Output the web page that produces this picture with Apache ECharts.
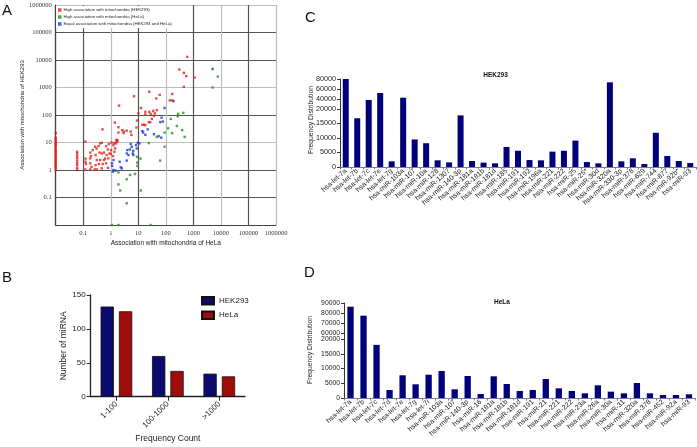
<!DOCTYPE html>
<html><head><meta charset="utf-8">
<script src="https://cdn.jsdelivr.net/npm/echarts@6/dist/echarts.min.js"></script>
<style>html,body{margin:0;padding:0;background:#fff}#c{width:697px;height:447px}</style>
</head><body><div id="c"></div>
<script>
// ---------- Panel A data: [HeLa, HEK293] ----------
const redPoints = [
 [600,13000],[310,4500],[450,3400],[550,2600],[1100,2300],[450,1050],[25,700],[7,480],[170,580],[60,540],
 [45,400],[140,340],[170,340],[2,220],[12.5,180],[18,130],[25,130],[35,140],[47,150],[18,105],[28,110],
 [40,115],[10,115],[37,93],[31,72],[9,63],[24,55],[27,55],[1.4,53],[14,44],[16,44],[18,43],[1.9,36],
 [8.5,35],[0.5,30],[2.6,28],[3.8,27],[3,25],[5.3,25],[1.9,23],[2.9,22],[5.6,19],[1.6,12.5],[1.7,12],
 [1.6,10.5],[0.12,10.8],[1.05,10],[1.3,9.5],
 [0.18,4.3],[0.19,3.2],[0.18,2.65],[0.12,2.6],[0.12,2],[0.125,1.65],[0.12,1.05],[0.18,1.75],[0.2,1.3],
 [0.18,1.05],[0.26,1.05],[0.28,1.5],[0.31,2.3],[0.28,3.5],[0.31,6],[0.36,7.4],[0.41,9.3],[0.47,9.8],
 [0.27,7],[0.22,5.3],[0.39,4.3],[0.47,4],[0.57,4.3],[0.71,3.5],[0.9,4],[1,3.8],[1.2,3.2],[1.36,4.6],
 [1.44,6.1],[1.25,8],[1.56,9.3],[1.75,11.3],[0.82,2.65],[0.57,2.3],[0.41,2.3],[0.37,1.65],[0.51,1.65],
 [0.68,1.75],[0.47,1.15],[0.31,1.05],[0.8,1.2],[0.62,2.6],[0.78,5.6],[1.03,5.3],[0.68,7.4],[0.85,8.8],
 [0.06,1],[0.06,1.2],[0.06,1.5],[0.06,1.8],[0.06,2.2],[0.06,2.7],[0.06,3.3],[0.06,4],[0.06,4.6],
 [0.01,1],[0.01,1.2],[0.01,1.4],[0.01,1.6],[0.01,1.8],[0.01,2],[0.01,2.3],[0.01,2.6],[0.01,3],[0.01,3.5],
 [0.01,4],[0.01,4.5],[0.01,5],[0.01,6],[0.01,7],[0.01,8],[0.01,9],[0.01,10],[0.01,11],[0.01,13],[0.01,15],[0.01,22]
];
const greenPoints = [
 [5000,1000],[7700,2500],[280,110],[430,120],[270,90],[150,72],[250,40],[120,33],[390,28],[90,23],[170,22],
 [47,16],[480,16],[24,9.5],[90,7],[62,2.2],[12,2.6],[9,3],[9.2,1.85],[9.3,1.4],[7.6,0.72],[5,0.66],[3.8,0.46],
 [1.9,0.82],[1.9,0.3],[2.2,0.18],[12.3,0.18],[3.8,0.062],[1.1,0.01],[1.9,0.01],[28,0.01]
];
const bluePoints = [
 [5000,4700],[190,320],[90,180],[70,80],[78,58],[63,55],[14,26],[15,23],[18,19],[22,30],[37,20],[55,17],[68,15],
 [3.8,4],[4,5.3],[5,5.6],[4.4,3.5],[6.3,4],[6.6,5],[5.8,7],[5.3,8.8],[8.3,8],[9.5,9.8],[11,9.3],[8.8,6.1],
 [1.25,2.3],[1.1,1.75],[1.12,1.4],[1.25,1],[1.18,0.87],[1.48,0.95],[2.3,1.25],[2.5,1.15],[3.8,2.2],[2.1,2],[6.6,3.5]
];
const seriesNamesA = ['High association with mitochondria (HEK293)','High association with mitochondria (HeLa)','Equal association with mitochondria (HEK293 and HeLa)'];

// ---------- Panel B ----------
const countCategories = ['1-100','100-1000','>1000'];
const countHEK293 = [133,60,34];
const countHeLa = [126,38,30];
const countTicks = [0,50,100,150];

// ---------- Panel C ----------
const hekMiRNAs = ['hsa-let-7a','hsa-let-7b','hsa-let-7c','hsa-let-7e','hsa-let-7g','hsa-miR-103a','hsa-miR-107','hsa-miR-10a',
 'hsa-miR-128','hsa-miR-1307','hsa-miR-140-3p','hsa-miR-181a','hsa-miR-181b','hsa-miR-181d','hsa-miR-185','hsa-miR-191',
 'hsa-miR-192','hsa-miR-196a','hsa-miR-221','hsa-miR-222','hsa-miR-25','hsa-miR-25*','hsa-miR-30d','hsa-miR-320a',
 'hsa-miR-330-3p','hsa-miR-378','hsa-miR-629','hsa-miR-744','hsa-miR-877','hsa-miR-92b*','hsa-miR-93'];
const hekFrequency = [80000,16800,38000,52000,1950,42600,9500,8200,2300,1600,17800,2070,1500,1270,6900,5600,
 2400,2300,5300,5600,9100,1700,1270,73400,1950,3000,1030,11800,3800,2070,1380];
const hekLowTicks = [0,5000,10000,15000,20000];
const hekHighTicks = [40000,60000,80000];

// ---------- Panel D ----------
const helaMiRNAs = ['hsa-let-7a','hsa-let-7b','hsa-let-7c','hsa-let-7d','hsa-let-7e','hsa-let-7g','hsa-let-7i','hsa-miR-103a',
 'hsa-miR-107','hsa-miR-140-3p','hsa-miR-16','hsa-miR-181a','hsa-miR-181b','hsa-miR-181d','hsa-miR-191','hsa-miR-21',
 'hsa-miR-221','hsa-miR-222','hsa-miR-23a','hsa-miR-26a','hsa-miR-30a','hsa-miR-31','hsa-miR-320a','hsa-miR-378',
 'hsa-miR-452','hsa-miR-92a','hsa-miR-93'];
const helaFrequency = [86300,77300,18000,2700,7700,4640,7900,9150,2950,7450,1350,7350,4750,2370,2700,6440,
 3280,2370,1580,4300,2150,1580,5080,1580,1020,1020,1250];
const helaLowTicks = [0,5000,10000,15000,20000];
const helaHighTicks = [60000,70000,80000,90000];

const FONT = 'Liberation Sans';
const NAVY = '#00007a';
const logLabel = v => String(+Number(v).toPrecision(6));
const plainLabel = v => String(Math.round(v));
const xGridColors = ['#555','#555','#bdbdbd','#555','#bdbdbd','#555','#bdbdbd','#555','#bdbdbd'];
const yGridColors = ['#555','#555','#555','#bdbdbd','#555','#bdbdbd','#555','#555','#bdbdbd'];

const chart = echarts.init(document.getElementById('c'), null, {renderer:'canvas'});
const option = {
  animation:false,
  backgroundColor:'#fff',
  textStyle:{fontFamily:FONT},
  grid:[
    {left:55.7, top:5, width:220.3, height:220},        // A
    {left:90.7, top:295, width:154.3, height:101.7},    // B
    {left:340, top:79, width:356, height:30},           // C top
    {left:340, top:109, width:356, height:58},          // C bottom
    {left:344, top:303, width:351.5, height:36},        // D top
    {left:344, top:339, width:351.5, height:59}         // D bottom
  ],
  legend:[
    {data:seriesNamesA, orient:'vertical', left:56, top:6, icon:'rect', itemWidth:3.5, itemHeight:3.5, itemGap:3,
     backgroundColor:'#fff', padding:[2,3,2,2],
     textStyle:{fontSize:4.3, color:'#222', padding:[0,0,0,-3]}},
    {data:['HEK293','HeLa'], orient:'vertical', left:196, top:291, icon:'rect', itemWidth:12, itemHeight:7.5, itemGap:5,
     textStyle:{fontSize:8, color:'#222'}}
  ],
  xAxis:[
    {type:'log', logBase:10, gridIndex:0, min:0.01, max:1000000, splitNumber:8,
     name:'Association with mitochondria of HeLa', nameLocation:'middle', nameGap:15,
     nameTextStyle:{fontSize:6.5, color:'#222'},
     axisLine:{show:true, lineStyle:{color:'#444', width:1.2}}, axisTick:{show:false},
     axisLabel:{fontFamily:'Liberation Serif', fontSize:6.5, color:'#333', formatter:logLabel, showMinLabel:false, margin:5},
     splitLine:{show:true, lineStyle:{color:xGridColors, width:1.2}}, minorTick:{show:false}, minorSplitLine:{show:false}},
    {type:'category', gridIndex:1, data:countCategories,
     name:'Frequency Count', nameLocation:'middle', nameGap:37, nameTextStyle:{fontSize:8.5, color:'#222'},
     axisLine:{show:true, lineStyle:{color:'#222', width:1.3}},
     axisTick:{show:true, alignWithLabel:true, length:4, lineStyle:{color:'#222'}},
     axisLabel:{rotate:45, fontSize:8, color:'#222', margin:6, interval:0}},
    {type:'category', gridIndex:2, data:hekMiRNAs, show:false},
    {type:'category', gridIndex:3, data:hekMiRNAs,
     axisLine:{show:true, lineStyle:{color:'#7a7a9a', width:1}},
     axisTick:{show:true, length:2.5, lineStyle:{color:'#7a7a9a'}},
     axisLabel:{rotate:42, fontSize:7, color:'#222', interval:0, margin:3}},
    {type:'category', gridIndex:4, data:helaMiRNAs, show:false},
    {type:'category', gridIndex:5, data:helaMiRNAs,
     axisLine:{show:true, lineStyle:{color:'#7a7a9a', width:1}},
     axisTick:{show:true, length:2.5, lineStyle:{color:'#7a7a9a'}},
     axisLabel:{rotate:42, fontSize:7, color:'#222', interval:0, margin:3}}
  ],
  yAxis:[
    {type:'log', logBase:10, gridIndex:0, min:0.01, max:1000000, splitNumber:8,
     name:'Association with mitochondria of HEK293', nameLocation:'middle', nameGap:24,
     nameTextStyle:{fontSize:6, color:'#222'},
     axisLine:{show:true, lineStyle:{color:'#444', width:1.2}}, axisTick:{show:false},
     axisLabel:{fontFamily:'Liberation Serif', fontSize:6.5, color:'#333', formatter:logLabel, showMinLabel:false, margin:4},
     splitLine:{show:true, lineStyle:{color:yGridColors, width:1.2}}, minorTick:{show:false}, minorSplitLine:{show:false}},
    {type:'value', gridIndex:1, min:0, max:150, interval:50,
     name:'Number of miRNA', nameLocation:'middle', nameGap:19.5, nameTextStyle:{fontSize:8.5, color:'#222'},
     axisLine:{show:true, lineStyle:{color:'#222', width:1.3}},
     axisTick:{show:true, length:4, lineStyle:{color:'#222'}, customValues:countTicks},
     axisLabel:{fontSize:8, color:'#222', margin:5, customValues:countTicks, formatter:plainLabel},
     splitLine:{show:false}},
    {type:'value', gridIndex:2, min:20000, max:80000,
     axisLine:{show:true, lineStyle:{color:'#333', width:1}},
     axisTick:{show:true, length:3, customValues:hekHighTicks},
     axisLabel:{fontSize:7.2, color:'#222', margin:4, customValues:hekHighTicks, formatter:plainLabel},
     splitLine:{show:false}},
    {type:'value', gridIndex:3, min:0, max:20000,
     axisLine:{show:true, lineStyle:{color:'#333', width:1}},
     axisTick:{show:true, length:3, customValues:hekLowTicks},
     axisLabel:{fontSize:7.2, color:'#222', margin:4, customValues:hekLowTicks, formatter:plainLabel},
     splitLine:{show:false}},
    {type:'value', gridIndex:4, min:54000, max:90000,
     axisLine:{show:true, lineStyle:{color:'#333', width:1}},
     axisTick:{show:true, length:3, customValues:helaHighTicks},
     axisLabel:{fontSize:6.8, color:'#222', margin:4, customValues:helaHighTicks, formatter:plainLabel},
     splitLine:{show:false}},
    {type:'value', gridIndex:5, min:0, max:20000,
     axisLine:{show:true, lineStyle:{color:'#333', width:1}},
     axisTick:{show:true, length:3, customValues:helaLowTicks},
     axisLabel:{fontSize:6.8, color:'#222', margin:4, customValues:helaLowTicks, formatter:plainLabel},
     splitLine:{show:false}}
  ],
  series:[
    {name:seriesNamesA[0], type:'scatter', xAxisIndex:0, yAxisIndex:0, data:redPoints, symbol:'rect', symbolSize:2.4, itemStyle:{color:'#e3201b'}},
    {name:seriesNamesA[1], type:'scatter', xAxisIndex:0, yAxisIndex:0, data:greenPoints, symbol:'rect', symbolSize:2.4, itemStyle:{color:'#2b8a2b'}},
    {name:seriesNamesA[2], type:'scatter', xAxisIndex:0, yAxisIndex:0, data:bluePoints, symbol:'rect', symbolSize:2.4, itemStyle:{color:'#1c38d2'}},
    {name:'HEK293', type:'bar', xAxisIndex:1, yAxisIndex:1, data:countHEK293, barWidth:13.3, barGap:'38%',
     itemStyle:{color:'#0c0c70', borderColor:'#111', borderWidth:0.8}},
    {name:'HeLa', type:'bar', xAxisIndex:1, yAxisIndex:1, data:countHeLa, barWidth:13.3, barGap:'38%',
     itemStyle:{color:'#a00c0c', borderColor:'#111', borderWidth:0.8}},
    {type:'bar', xAxisIndex:2, yAxisIndex:2, data:hekFrequency, barWidth:6, itemStyle:{color:NAVY}},
    {type:'bar', xAxisIndex:3, yAxisIndex:3, data:hekFrequency, barWidth:6, itemStyle:{color:NAVY}},
    {type:'bar', xAxisIndex:4, yAxisIndex:4, data:helaFrequency, barWidth:6.3, itemStyle:{color:NAVY}},
    {type:'bar', xAxisIndex:5, yAxisIndex:5, data:helaFrequency, barWidth:6.3, itemStyle:{color:NAVY}}
  ],
  graphic:[
    {type:'text', left:2, top:3, style:{text:'A', fontSize:15, fontFamily:FONT, fill:'#111'}},
    {type:'text', left:2, top:270, style:{text:'B', fontSize:15, fontFamily:FONT, fill:'#111'}},
    {type:'text', left:305, top:10, style:{text:'C', fontSize:15, fontFamily:FONT, fill:'#111'}},
    {type:'text', left:304, top:265, style:{text:'D', fontSize:15, fontFamily:FONT, fill:'#111'}},
    {type:'text', x:495.5, y:75.3, style:{text:'HEK293', fontSize:6.5, fontWeight:'bold', fontFamily:FONT, fill:'#111', textAlign:'center', textVerticalAlign:'middle'}},
    {type:'text', x:502, y:302.3, style:{text:'HeLa', fontSize:6.5, fontWeight:'bold', fontFamily:FONT, fill:'#111', textAlign:'center', textVerticalAlign:'middle'}},
    {type:'text', x:311, y:120, rotation:Math.PI/2, style:{text:'Frequency Distribution', fontSize:6.8, fontFamily:FONT, fill:'#222', textAlign:'center', textVerticalAlign:'middle'}},
    {type:'text', x:310, y:350, rotation:Math.PI/2, style:{text:'Frequency Distribution', fontSize:6.8, fontFamily:FONT, fill:'#222', textAlign:'center', textVerticalAlign:'middle'}}
  ]
};
chart.setOption(option);
</script>
</body></html>
